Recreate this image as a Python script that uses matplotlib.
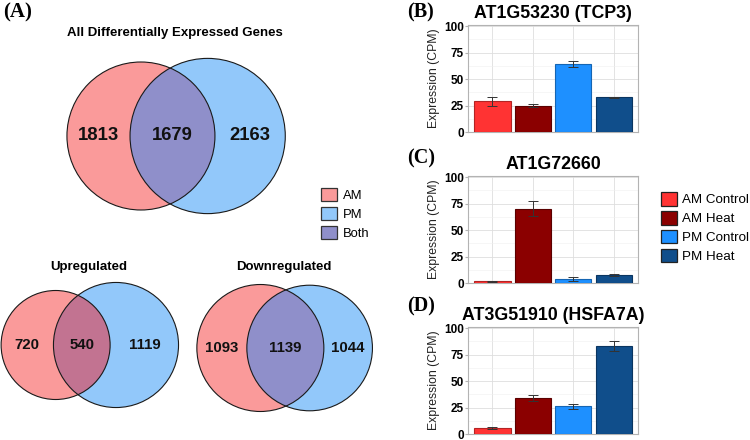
import numpy as np
import matplotlib.pyplot as plt
from matplotlib.patches import Circle, Patch

plt.rcParams['font.family'] = ['Liberation Sans', 'DejaVu Sans']

# venn counts: AM only, both, PM only
all_counts = [1813, 1679, 2163]
up_counts = [720, 540, 1119]
down_counts = [1093, 1139, 1044]
venn_titles = ['All Differentially Expressed Genes', 'Upregulated', 'Downregulated']
venn_legend = ['AM', 'PM', 'Both']

# bar panels
conditions = ['AM Control', 'AM Heat', 'PM Control', 'PM Heat']
genes = ['AT1G53230 (TCP3)', 'AT1G72660', 'AT3G51910 (HSFA7A)']
tcp3_mean = [28.8, 25.0, 64.5, 32.8]
tcp3_err = [4.0, 1.0, 2.8, 0.6]
at1g72660_mean = [1.5, 70.2, 3.7, 7.8]
at1g72660_err = [0.3, 6.8, 2.2, 1.0]
hsfa7a_mean = [5.6, 33.8, 26.2, 83.1]
hsfa7a_err = [1.0, 2.8, 2.3, 4.7]
yticks = [0, 25, 50, 75, 100]

RED = '#fa9a9a'
BLUE = '#92c8fa'
BOTH = '#8f8fca'
UP_BOTH = '#c27391'
bar_colors = ['#ff3333', '#8b0000', '#1e90ff', '#104e8b']
bar_edges = ['#b32424', '#5a0000', '#1565b3', '#0a3560']


def lens_area(r1, r2, d):
    if d >= r1 + r2:
        return 0.0
    if d <= abs(r1 - r2):
        return np.pi * min(r1, r2) ** 2
    a1 = r1 ** 2 * np.arccos((d ** 2 + r1 ** 2 - r2 ** 2) / (2 * d * r1))
    a2 = r2 ** 2 * np.arccos((d ** 2 + r2 ** 2 - r1 ** 2) / (2 * d * r2))
    t = 0.5 * np.sqrt((-d + r1 + r2) * (d + r1 - r2) * (d - r1 + r2) * (d + r1 + r2))
    return a1 + a2 - t


def venn_dist(r1, r2, target):
    lo, hi = abs(r1 - r2), r1 + r2
    for _ in range(60):
        mid = (lo + hi) / 2
        if lens_area(r1, r2, mid) > target:
            lo = mid
        else:
            hi = mid
    return (lo + hi) / 2


def draw_venn(ax, counts, cx, cy, k, both_col, fs):
    a, ab, b = counts
    r1 = k * np.sqrt(a + ab)
    r2 = k * np.sqrt(b + ab)
    d = venn_dist(r1, r2, np.pi * k ** 2 * ab)
    x1, x2 = cx - d / 2, cx + d / 2
    ax.add_patch(Circle((x1, cy), r1, fc=RED, ec='none'))
    blue = Circle((x2, cy), r2, fc=BLUE, ec='none')
    ax.add_patch(blue)
    inter = Circle((x1, cy), r1, fc=both_col, ec='none')
    ax.add_patch(inter)
    inter.set_clip_path(blue)
    ax.add_patch(Circle((x1, cy), r1, fill=False, ec='#1a1a1a', lw=0.8))
    ax.add_patch(Circle((x2, cy), r2, fill=False, ec='#1a1a1a', lw=0.8))
    xs = [(x1 - r1 + x2 - r2) / 2, (x2 - r2 + x1 + r1) / 2, (x1 + r1 + x2 + r2) / 2]
    for x, c in zip(xs, counts):
        ax.text(x, cy, str(c), ha='center', va='center', fontsize=fs,
                fontweight='bold', color='#111')


fig = plt.figure(figsize=(7.5, 4.4), dpi=100)

ov = fig.add_axes([0, 0, 1, 1])
ov.set_xlim(0, 750)
ov.set_ylim(440, 0)
ov.axis('off')

draw_venn(ov, all_counts, 174.3, 136, 1.2523, BOTH, 13.3)
draw_venn(ov, up_counts, 85.8, 345, 1.5354, UP_BOTH, 10.8)
draw_venn(ov, down_counts, 285, 348, 1.344, BOTH, 10.8)
ov.text(175, 33, venn_titles[0], ha='center', va='center', fontsize=9.5, fontweight='bold')
ov.text(89, 267, venn_titles[1], ha='center', va='center', fontsize=9.5, fontweight='bold')
ov.text(284, 267, venn_titles[2], ha='center', va='center', fontsize=9.5, fontweight='bold')

serif = ['Liberation Serif', 'DejaVu Serif']
ov.text(3, 12, '(A)', ha='left', va='center', fontsize=15, fontweight='bold', family=serif)
ov.text(407, 12, '(B)', ha='left', va='center', fontsize=14.5, fontweight='bold', family=serif)
ov.text(407, 158, '(C)', ha='left', va='center', fontsize=14.5, fontweight='bold', family=serif)
ov.text(407, 306, '(D)', ha='left', va='center', fontsize=14.5, fontweight='bold', family=serif)

venn_handles = [Patch(fc=c, ec='#333', lw=0.9) for c in [RED, BLUE, BOTH]]
fig.legend(venn_handles, venn_legend, loc='upper left', bbox_to_anchor=(321 / 750, 1 - 188 / 440),
           frameon=False, fontsize=9.4, handlelength=1.2, handleheight=1.2,
           handletextpad=0.45, labelspacing=0.36, borderaxespad=0, borderpad=0)

panels = [(tcp3_mean, tcp3_err), (at1g72660_mean, at1g72660_err), (hsfa7a_mean, hsfa7a_err)]
tops = [25, 176, 327]
x = np.arange(1, len(conditions) + 1)
for (mean, err), gene, top in zip(panels, genes, tops):
    ax = fig.add_axes([468 / 750, 1 - (top + 107) / 440, 170 / 750, 107 / 440])
    ax.bar(x, mean, width=0.9, color=bar_colors, edgecolor=bar_edges, lw=0.8, zorder=3)
    ax.errorbar(x, mean, yerr=err, fmt='none', ecolor='#333', elinewidth=0.7,
                capsize=3.5, capthick=0.7, zorder=4)
    ax.set_xlim(0.4, 4.6)
    ax.set_ylim(0, 101)
    ax.set_yticks(yticks)
    ax.set_yticks([12.5, 37.5, 62.5, 87.5], minor=True)
    ax.set_xticks(x)
    ax.set_xticklabels([])
    ax.tick_params(axis='x', length=0)
    ax.tick_params(axis='y', which='major', length=2, color='#b3b3b3', pad=1, labelsize=8.5)
    ax.tick_params(axis='y', which='minor', length=0)
    for lab in ax.get_yticklabels():
        lab.set_fontweight('bold')
    ax.grid(True, which='major', color='#dedede', lw=0.6, zorder=0)
    ax.grid(True, which='minor', axis='y', color='#efefef', lw=0.4, zorder=0)
    for s in ax.spines.values():
        s.set_color('#b3b3b3')
        s.set_linewidth(0.8)
    ax.set_ylabel('Expression (CPM)', fontsize=8.8, color='#222', labelpad=3)
    ax.set_title(gene, fontsize=12.8, fontweight='bold', pad=5)

bar_handles = [Patch(fc=c, ec='#222', lw=0.9) for c in bar_colors]
fig.legend(bar_handles, conditions, loc='upper left', bbox_to_anchor=(661 / 750, 1 - 192 / 440),
           frameon=False, fontsize=9.6, handlelength=1.2, handleheight=1.2,
           handletextpad=0.4, labelspacing=0.34, borderaxespad=0, borderpad=0)

fig.savefig('out.png', dpi=100)
